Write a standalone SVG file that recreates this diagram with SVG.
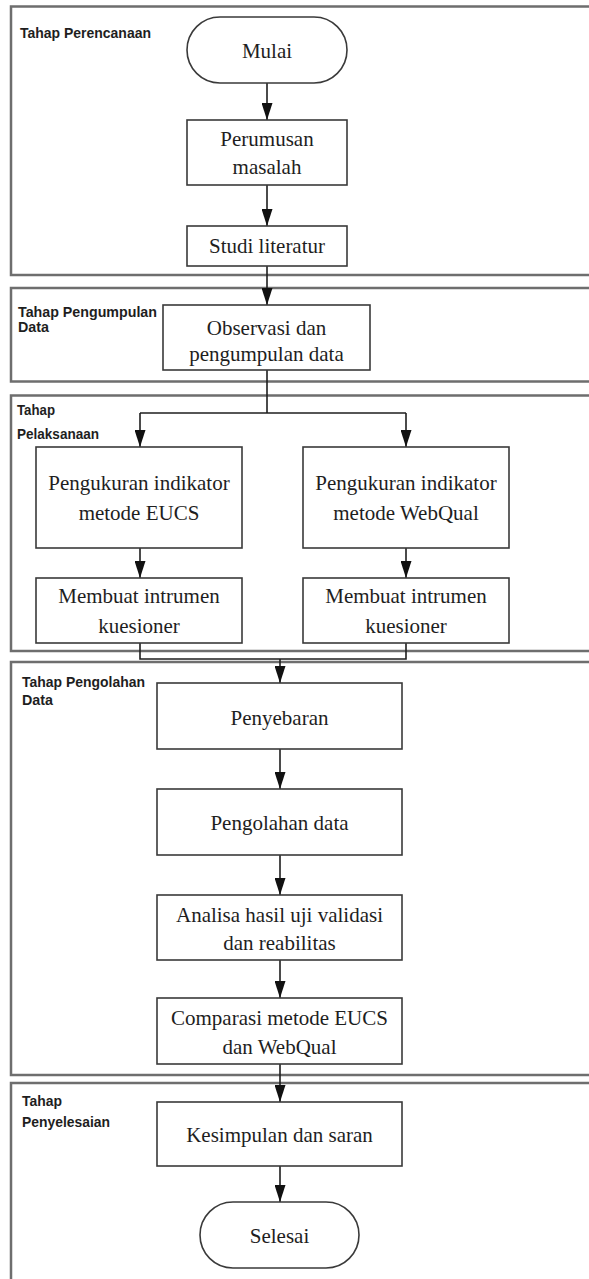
<svg xmlns="http://www.w3.org/2000/svg" width="589" height="1279" viewBox="0 0 589 1279">
<style>
.frame{fill:none;stroke:#6e6e6e;stroke-width:2.5}
.box{fill:#fff;stroke:#3a3a3a;stroke-width:1.6}
.t{font-family:"Liberation Serif","Times New Roman",serif;font-size:21px;fill:#1e1e1e;text-anchor:middle}
.lbl{font-family:"Liberation Sans",Arial,sans-serif;font-size:15px;font-weight:bold;fill:#1e1e1e}
.c{fill:none;stroke:#1e1e1e;stroke-width:1.6}
</style>
<defs>
<marker id="arr" viewBox="0 0 17 11" refX="17" refY="5.5" markerWidth="17" markerHeight="11" markerUnits="userSpaceOnUse" orient="auto">
<path d="M0,0 L17,5.5 L0,11 z" fill="#111"/>
</marker>
</defs>
<rect width="589" height="1279" fill="#fff"/>
<g id="frames">
<g id="frame-perencanaan"><rect class="frame" x="11" y="6.5" width="600" height="268.5"/><text class="lbl" x="20" y="38" textLength="131" lengthAdjust="spacingAndGlyphs">Tahap Perencanaan</text></g>
<g id="frame-pengumpulan"><rect class="frame" x="11" y="288" width="600" height="93.5"/><text class="lbl" x="18" y="317" textLength="139" lengthAdjust="spacingAndGlyphs">Tahap Pengumpulan</text><text class="lbl" x="18" y="332" textLength="31" lengthAdjust="spacingAndGlyphs">Data</text></g>
<g id="frame-pelaksanaan"><rect class="frame" x="11" y="395.5" width="600" height="255.5"/><text class="lbl" x="17" y="415" textLength="38" lengthAdjust="spacingAndGlyphs">Tahap</text><text class="lbl" x="17" y="439" textLength="82" lengthAdjust="spacingAndGlyphs">Pelaksanaan</text></g>
<g id="frame-pengolahan"><rect class="frame" x="11" y="662" width="600" height="413"/><text class="lbl" x="22" y="687" textLength="123" lengthAdjust="spacingAndGlyphs">Tahap Pengolahan</text><text class="lbl" x="22" y="705" textLength="31" lengthAdjust="spacingAndGlyphs">Data</text></g>
<g id="frame-penyelesaian"><rect class="frame" x="11" y="1083" width="600" height="230"/><text class="lbl" x="22" y="1106" textLength="40" lengthAdjust="spacingAndGlyphs">Tahap</text><text class="lbl" x="22" y="1127" textLength="88" lengthAdjust="spacingAndGlyphs">Penyelesaian</text></g>
</g>
<g id="connectors">
<line class="c" x1="267" y1="83" x2="267" y2="120" marker-end="url(#arr)"/>
<line class="c" x1="267" y1="185" x2="267" y2="226" marker-end="url(#arr)"/>
<line class="c" x1="267" y1="266" x2="267" y2="305" marker-end="url(#arr)"/>
<polyline class="c" points="267,370 267,413"/>
<polyline class="c" points="140,413 406,413"/>
<line class="c" x1="140" y1="413" x2="140" y2="447" marker-end="url(#arr)"/>
<line class="c" x1="406" y1="413" x2="406" y2="447" marker-end="url(#arr)"/>
<line class="c" x1="140" y1="548" x2="140" y2="578" marker-end="url(#arr)"/>
<line class="c" x1="406" y1="548" x2="406" y2="578" marker-end="url(#arr)"/>
<polyline class="c" points="140,643 140,659 406,659 406,643"/>
<line class="c" x1="280" y1="659" x2="280" y2="683" marker-end="url(#arr)"/>
<line class="c" x1="280" y1="749" x2="280" y2="789" marker-end="url(#arr)"/>
<line class="c" x1="280" y1="855" x2="280" y2="895" marker-end="url(#arr)"/>
<line class="c" x1="280" y1="960" x2="280" y2="998" marker-end="url(#arr)"/>
<line class="c" x1="280" y1="1064" x2="280" y2="1102" marker-end="url(#arr)"/>
<line class="c" x1="280" y1="1166" x2="280" y2="1202" marker-end="url(#arr)"/>
</g>
<g id="mulai"><rect class="box" x="187" y="17" width="160" height="66" rx="33"/><text class="t" x="267" y="58">Mulai</text></g>
<g id="perumusan"><rect class="box" x="187" y="120" width="160" height="65"/><text class="t" x="267" y="146">Perumusan</text><text class="t" x="267" y="174">masalah</text></g>
<g id="studi"><rect class="box" x="187" y="226" width="160" height="40"/><text class="t" x="267" y="253">Studi literatur</text></g>
<g id="observasi"><rect class="box" x="163" y="305" width="207" height="65"/><text class="t" x="266.5" y="335">Observasi dan</text><text class="t" x="266.5" y="361">pengumpulan data</text></g>
<g id="eucs"><rect class="box" x="36" y="447" width="206" height="101"/><text class="t" x="139" y="490">Pengukuran indikator</text><text class="t" x="139" y="520">metode EUCS</text></g>
<g id="webqual"><rect class="box" x="303" y="447" width="206" height="101"/><text class="t" x="406" y="490">Pengukuran indikator</text><text class="t" x="406" y="520">metode WebQual</text></g>
<g id="instrumen-eucs"><rect class="box" x="36" y="578" width="206" height="65"/><text class="t" x="139" y="603">Membuat intrumen</text><text class="t" x="139" y="633">kuesioner</text></g>
<g id="instrumen-webqual"><rect class="box" x="303" y="578" width="206" height="65"/><text class="t" x="406" y="603">Membuat intrumen</text><text class="t" x="406" y="633">kuesioner</text></g>
<g id="penyebaran"><rect class="box" x="157" y="683" width="245" height="66"/><text class="t" x="279.5" y="725">Penyebaran</text></g>
<g id="pengolahan"><rect class="box" x="157" y="789" width="245" height="66"/><text class="t" x="279.5" y="830">Pengolahan data</text></g>
<g id="analisa"><rect class="box" x="157" y="895" width="245" height="65"/><text class="t" x="279.5" y="922">Analisa hasil uji validasi</text><text class="t" x="279.5" y="950">dan reabilitas</text></g>
<g id="comparasi"><rect class="box" x="157" y="998" width="245" height="66"/><text class="t" x="279.5" y="1025">Comparasi metode EUCS</text><text class="t" x="279.5" y="1054">dan WebQual</text></g>
<g id="kesimpulan"><rect class="box" x="157" y="1102" width="245" height="64"/><text class="t" x="279.5" y="1142">Kesimpulan dan saran</text></g>
<g id="selesai"><rect class="box" x="200" y="1202" width="159" height="66" rx="33"/><text class="t" x="279.5" y="1243">Selesai</text></g>
</svg>
